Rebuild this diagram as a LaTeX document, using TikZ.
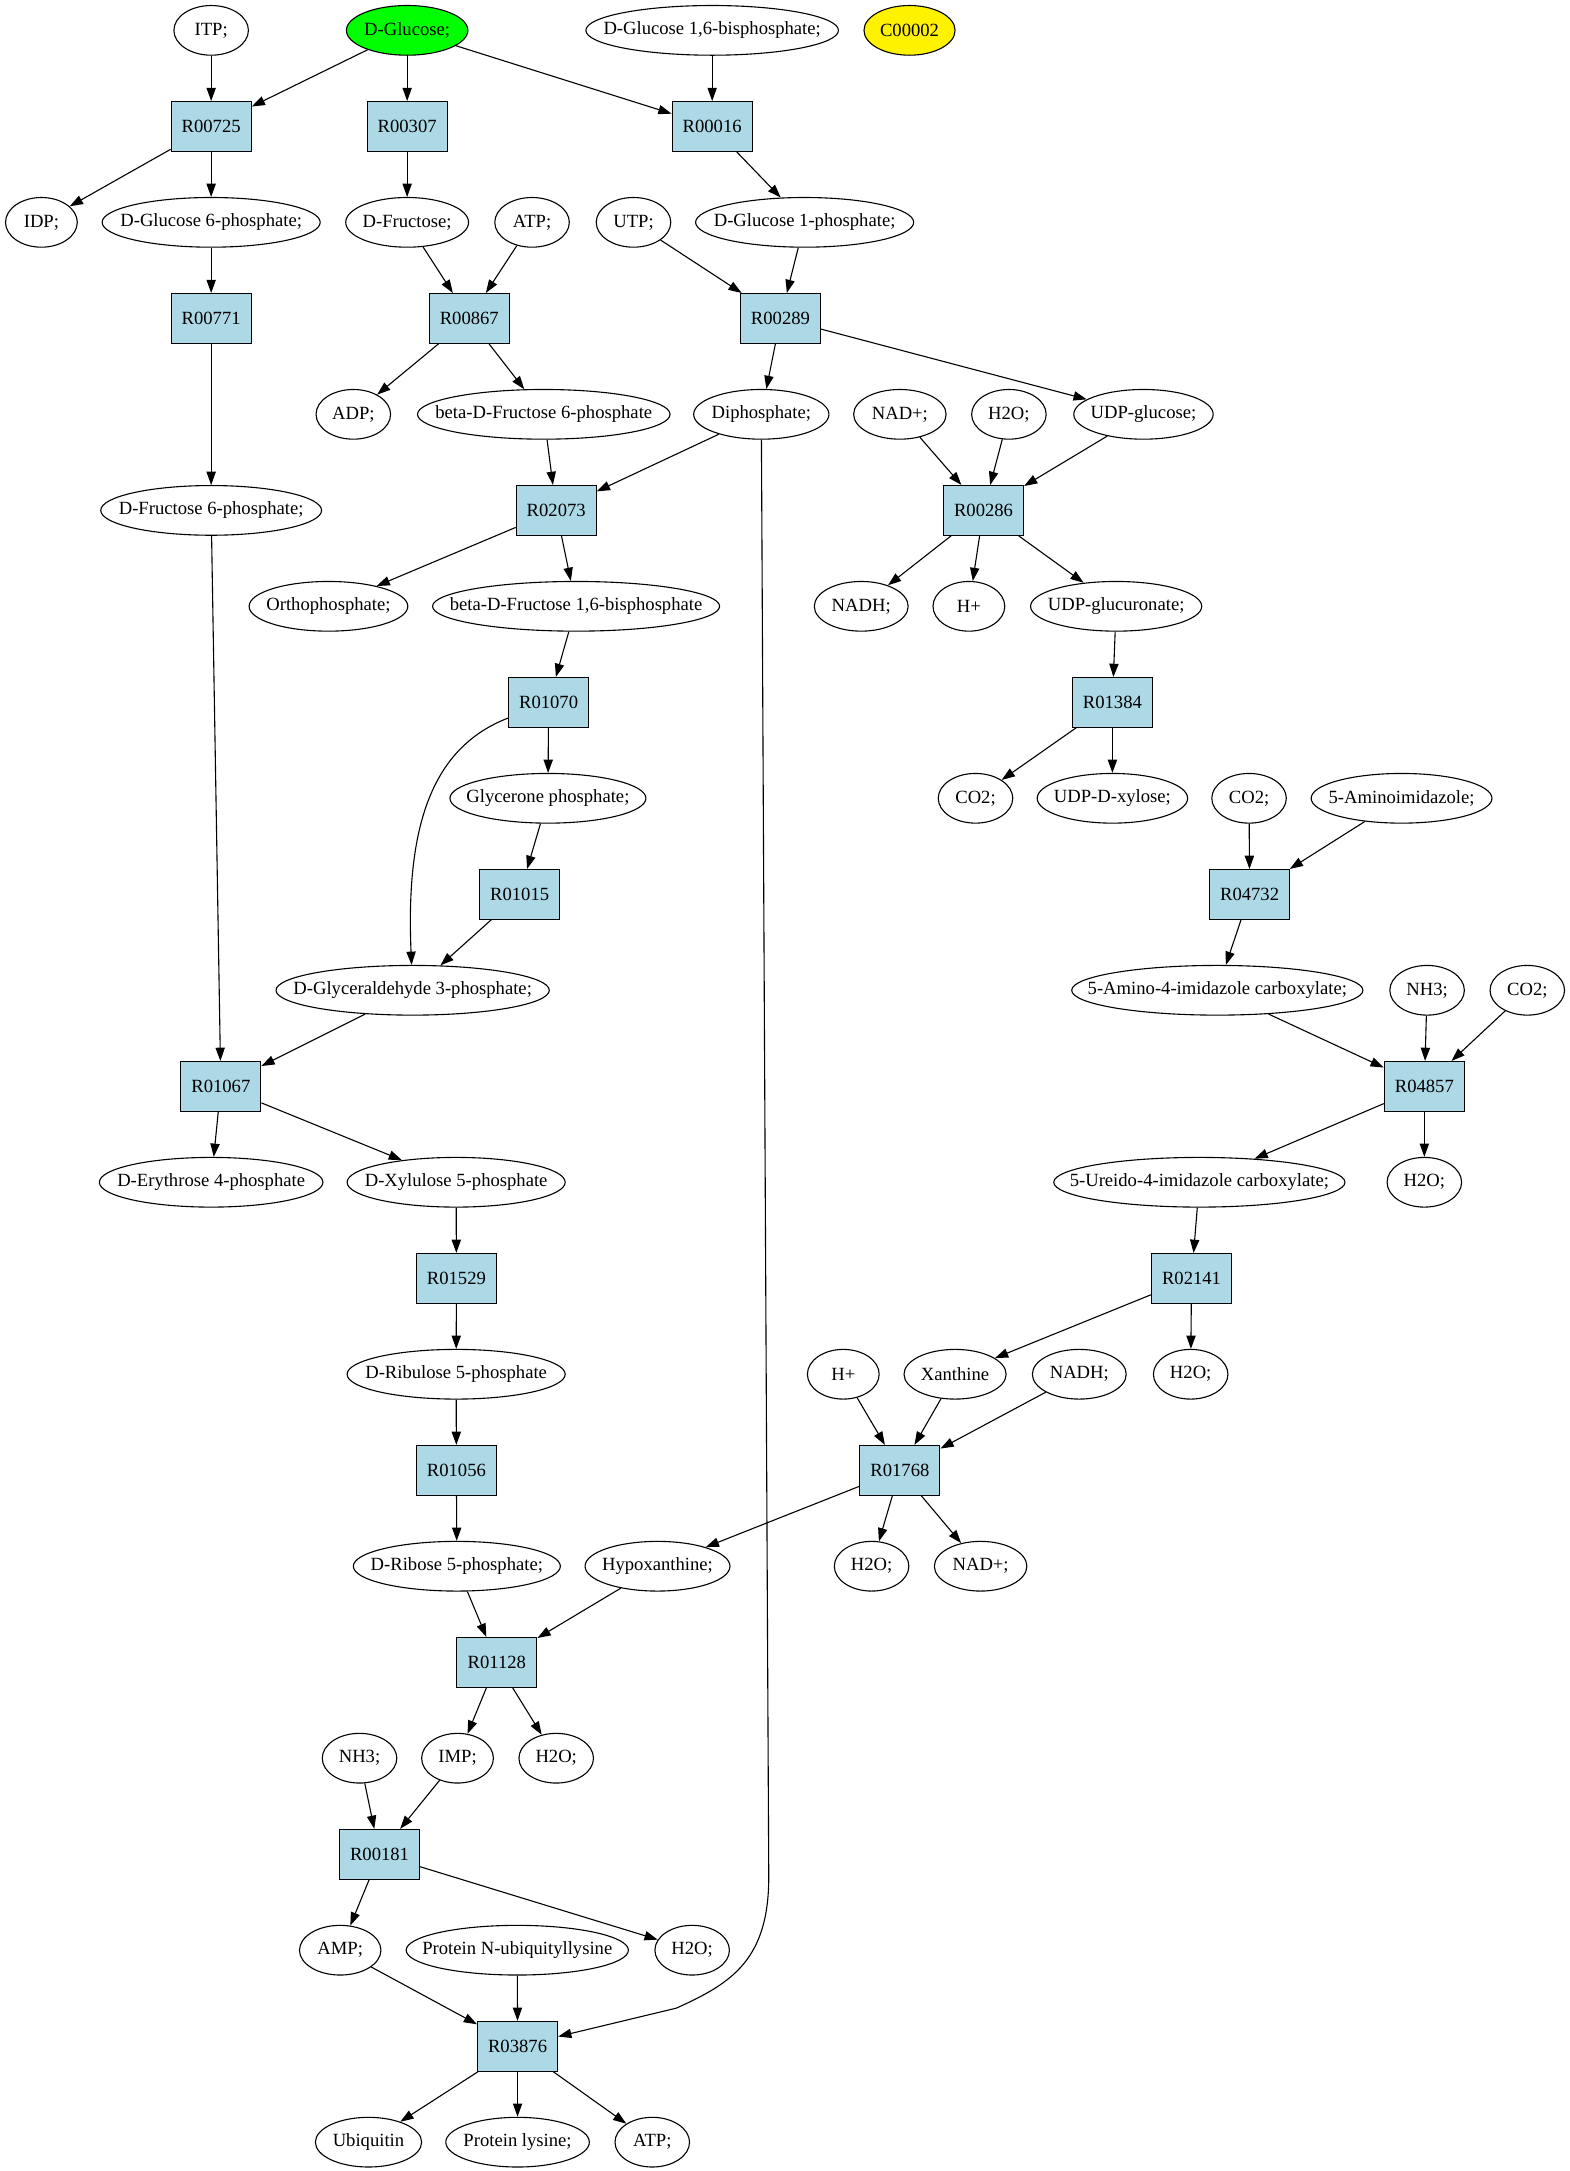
\documentclass[tikz,border=0pt]{standalone}
\usepackage{fontspec}
\setmainfont{Liberation Serif}
\usetikzlibrary{shapes,arrows.meta}
\definecolor{rxnblue}{RGB}{173,216,230}
\definecolor{cpdgreen}{RGB}{0,255,0}

\begin{document}
\begin{tikzpicture}[x=1pt,y=-1pt,line width=0.8pt,font=\fontsize{13.5}{16}\selectfont,
  cpd/.style={ellipse,draw,inner xsep=-40pt,inner ysep=0pt,minimum height=36pt,minimum width=#1},
  cpd/.default=54pt,
  rxn/.style={rectangle,draw,fill=rxnblue,minimum width=58pt,minimum height=36pt},
  arr/.style={-{Triangle[length=9.6pt,width=6.7pt]}}]
\useasboundingbox (0,0) rectangle (1137,1573);

\node[cpd] (itp) at (153,22) {ITP;};
\node[cpd=88pt,fill=cpdgreen] (dglc) at (295,22) {D-Glucose;};
\node[cpd=183pt] (dg16bp) at (516,22) {D-Glucose 1,6-bisphosphate;};
\node[cpd=66pt,fill=yellow] (c00002) at (659,22) {C00002};

\node[rxn] (r00725) at (153,91.6) {R00725};
\node[rxn] (r00307) at (295,91.6) {R00307};
\node[rxn] (r00016) at (516,91.6) {R00016};

\node[cpd=52pt] (idp) at (30,161.1) {IDP;};
\node[cpd=158pt] (dg6p) at (153,161.1) {D-Glucose 6-phosphate;};
\node[cpd=89pt] (dfru) at (295,161.1) {D-Fructose;};
\node[cpd] (atpA) at (385.5,161.1) {ATP;};
\node[cpd] (utp) at (459,161.1) {UTP;};
\node[cpd=158pt] (dg1p) at (583,161.1) {D-Glucose 1-phosphate;};

\node[rxn] (r00771) at (153,230.7) {R00771};
\node[rxn] (r00867) at (340,230.7) {R00867};
\node[rxn] (r00289) at (565.5,230.7) {R00289};

\node[cpd] (adp) at (256,300.2) {ADP;};
\node[cpd=183pt] (bdf6p) at (394,300.2) {beta-D-Fructose 6-phosphate};
\node[cpd=98pt] (dip) at (551.6,300.2) {Diphosphate;};
\node[cpd=67pt] (nadA) at (652,300.2) {NAD+;};
\node[cpd] (h2oA) at (731,300.2) {H2O;};
\node[cpd=101pt] (udpg) at (828.5,300.2) {UDP-glucose;};

\node[cpd=160pt] (df6p) at (153,369.8) {D-Fructose 6-phosphate;};
\node[rxn] (r02073) at (403,369.8) {R02073};
\node[rxn] (r00286) at (712.6,369.8) {R00286};

\node[cpd=115pt] (orth) at (238,439.3) {Orthophosphate;};
\node[cpd=208pt] (bdf16bp) at (417.4,439.3) {beta-D-Fructose 1,6-bisphosphate};
\node[cpd=68pt] (nadhA) at (624,439.3) {NADH;};
\node[cpd=52pt] (hA) at (702,439.3) {H+};
\node[cpd=124pt] (udpgu) at (808.7,439.3) {UDP-glucuronate;};

\node[rxn] (r01070) at (397.5,508.9) {R01070};
\node[rxn] (r01384) at (806,508.9) {R01384};

\node[cpd=142pt] (glyp) at (397,578.4) {Glycerone phosphate;};
\node[cpd] (co2A) at (706.8,578.4) {CO2;};
\node[cpd=109pt] (udpx) at (806,578.4) {UDP-D-xylose;};
\node[cpd] (co2B) at (905,578.4) {CO2;};
\node[cpd=131pt] (aimz) at (1015.5,578.4) {5-Aminoimidazole;};

\node[rxn] (r01015) at (376.5,648) {R01015};
\node[rxn] (r04732) at (905.4,648) {R04732};

\node[cpd=198pt] (gap) at (299,717.5) {D-Glyceraldehyde 3-phosphate;};
\node[cpd=211pt] (aic) at (882,717.5) {5-Amino-4-imidazole carboxylate;};
\node[cpd] (nh3A) at (1034,717.5) {NH3;};
\node[cpd] (co2C) at (1106.6,717.5) {CO2;};

\node[rxn] (r01067) at (160,787.1) {R01067};
\node[rxn] (r04857) at (1032,787.1) {R04857};

\node[cpd=162pt] (de4p) at (153,856.6) {D-Erythrose 4-phosphate};
\node[cpd=158pt] (dx5p) at (330.5,856.6) {D-Xylulose 5-phosphate};
\node[cpd=211pt] (uic) at (869,856.6) {5-Ureido-4-imidazole carboxylate;};
\node[cpd] (h2oB) at (1032,856.6) {H2O;};

\node[rxn] (r01529) at (330.7,926.2) {R01529};
\node[rxn] (r02141) at (863.3,926.2) {R02141};

\node[cpd=158pt] (dru5p) at (330.5,995.7) {D-Ribulose 5-phosphate};
\node[cpd=52pt] (hB) at (611,995.7) {H+};
\node[cpd=74pt] (xan) at (692,995.7) {Xanthine};
\node[cpd=68pt] (nadhB) at (782,995.7) {NADH;};
\node[cpd] (h2oC) at (862.7,995.7) {H2O;};

\node[rxn] (r01056) at (330.7,1065.3) {R01056};
\node[rxn] (r01768) at (652,1065.3) {R01768};

\node[cpd=150pt] (dri5p) at (331,1134.8) {D-Ribose 5-phosphate;};
\node[cpd=105pt] (hyp) at (476.4,1134.8) {Hypoxanthine;};
\node[cpd] (h2oD) at (631.5,1134.8) {H2O;};
\node[cpd=67pt] (nadB) at (710.5,1134.8) {NAD+;};

\node[rxn] (r01128) at (360,1204.4) {R01128};

\node[cpd] (nh3B) at (260.5,1273.9) {NH3;};
\node[cpd=52pt] (imp) at (331.5,1273.9) {IMP;};
\node[cpd] (h2oE) at (403,1273.9) {H2O;};

\node[rxn] (r00181) at (275,1343.5) {R00181};

\node[cpd=59pt] (amp) at (246.5,1413) {AMP;};
\node[cpd=161pt] (pnub) at (374.8,1413) {Protein N-ubiquityllysine};
\node[cpd] (h2oF) at (501.5,1413) {H2O;};

\node[rxn] (r03876) at (375,1482.6) {R03876};

\node[cpd=77pt] (ubq) at (267,1552.1) {Ubiquitin};
\node[cpd=104pt] (plys) at (375,1552.1) {Protein lysine;};
\node[cpd] (atpB) at (472.6,1552.1) {ATP;};

\draw[arr] (itp) -- (r00725);
\draw[arr] (dglc) -- (r00725);
\draw[arr] (dglc) -- (r00307);
\draw[arr] (dglc) -- (r00016);
\draw[arr] (dg16bp) -- (r00016);
\draw[arr] (r00725) -- (idp);
\draw[arr] (r00725) -- (dg6p);
\draw[arr] (r00307) -- (dfru);
\draw[arr] (r00016) -- (dg1p);
\draw[arr] (dg6p) -- (r00771);
\draw[arr] (dfru) -- (r00867);
\draw[arr] (atpA) -- (r00867);
\draw[arr] (utp) -- (r00289);
\draw[arr] (dg1p) -- (r00289);
\draw[arr] (r00771) -- (df6p);
\draw[arr] (r00867) -- (adp);
\draw[arr] (r00867) -- (bdf6p);
\draw[arr] (r00289) -- (dip);
\draw[arr] (r00289) -- (udpg);
\draw[arr] (bdf6p) -- (r02073);
\draw[arr] (dip) -- (r02073);
\draw[arr] (nadA) -- (r00286);
\draw[arr] (h2oA) -- (r00286);
\draw[arr] (udpg) -- (r00286);
\draw[arr] (df6p) -- (r01067);
\draw[arr] (r02073) -- (orth);
\draw[arr] (r02073) -- (bdf16bp);
\draw[arr] (r00286) -- (nadhA);
\draw[arr] (r00286) -- (hA);
\draw[arr] (r00286) -- (udpgu);
\draw[arr] (bdf16bp) -- (r01070);
\draw[arr] (udpgu) -- (r01384);
\draw[arr] (r01070) -- (glyp);
\draw[arr] (r01070) .. controls (312,542) and (294,600) .. (gap);
\draw[arr] (r01384) -- (co2A);
\draw[arr] (r01384) -- (udpx);
\draw[arr] (glyp) -- (r01015);
\draw[arr] (co2B) -- (r04732);
\draw[arr] (aimz) -- (r04732);
\draw[arr] (r01015) -- (gap);
\draw[arr] (r04732) -- (aic);
\draw[arr] (gap) -- (r01067);
\draw[arr] (aic) -- (r04857);
\draw[arr] (nh3A) -- (r04857);
\draw[arr] (co2C) -- (r04857);
\draw[arr] (r01067) -- (de4p);
\draw[arr] (r01067) -- (dx5p);
\draw[arr] (r04857) -- (uic);
\draw[arr] (r04857) -- (h2oB);
\draw[arr] (dx5p) -- (r01529);
\draw[arr] (uic) -- (r02141);
\draw[arr] (r01529) -- (dru5p);
\draw[arr] (r02141) -- (xan);
\draw[arr] (r02141) -- (h2oC);
\draw[arr] (hB) -- (r01768);
\draw[arr] (xan) -- (r01768);
\draw[arr] (nadhB) -- (r01768);
\draw[arr] (dru5p) -- (r01056);
\draw[arr] (r01056) -- (dri5p);
\draw[arr] (r01768) -- (hyp);
\draw[arr] (r01768) -- (h2oD);
\draw[arr] (r01768) -- (nadB);
\draw[arr] (dri5p) -- (r01128);
\draw[arr] (hyp) -- (r01128);
\draw[arr] (r01128) -- (imp);
\draw[arr] (r01128) -- (h2oE);
\draw[arr] (nh3B) -- (r00181);
\draw[arr] (imp) -- (r00181);
\draw[arr] (r00181) -- (amp);
\draw[arr] (r00181) -- (h2oF);
\draw[arr] (amp) -- (r03876);
\draw[arr] (pnub) -- (r03876);
\draw[arr] (dip) -- (557,1360) .. controls (557,1420) and (530,1437) .. (490,1455) -- (r03876);
\draw[arr] (r03876) -- (ubq);
\draw[arr] (r03876) -- (plys);
\draw[arr] (r03876) -- (atpB);
\end{tikzpicture}
\end{document}
